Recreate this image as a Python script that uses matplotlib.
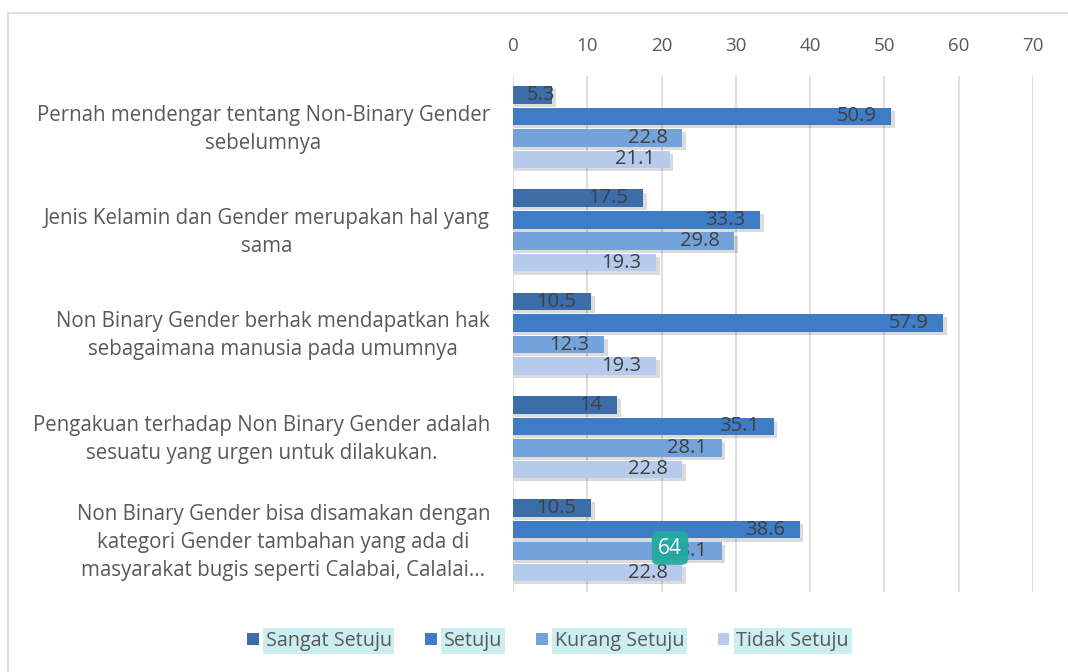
import matplotlib.pyplot as plt
from matplotlib.patches import Rectangle
import matplotlib.transforms as mtransforms
import numpy as np

plt.rcParams['font.family'] = ['Open Sans', 'DejaVu Sans']

# Data
categories = [
    'Pernah mendengar tentang Non-Binary Gender\nsebelumnya',
    'Jenis Kelamin dan Gender merupakan hal yang\nsama',
    'Non Binary Gender berhak mendapatkan hak\nsebagaimana manusia pada umumnya',
    'Pengakuan terhadap Non Binary Gender adalah\nsesuatu yang urgen untuk dilakukan.',
    'Non Binary Gender bisa disamakan dengan\nkategori Gender tambahan yang ada di\nmasyarakat bugis seperti Calabai, Calalai...',
]
series_names = ['Sangat Setuju', 'Setuju', 'Kurang Setuju', 'Tidak Setuju']
sangat_setuju = [5.3, 17.5, 10.5, 14, 10.5]
setuju = [50.9, 33.3, 57.9, 35.1, 38.6]
kurang_setuju = [22.8, 29.8, 12.3, 28.1, 28.1]
tidak_setuju = [21.1, 19.3, 19.3, 22.8, 22.8]
x_ticks = [0, 10, 20, 30, 40, 50, 60, 70]

series = [sangat_setuju, setuju, kurang_setuju, tidak_setuju]
colors = ['#3b6ea8', '#3e7dc5', '#74a2db', '#b6cbeb']

fig = plt.figure(figsize=(10.68, 6.72), dpi=100)
ax = fig.add_axes([0.4803, 0.119, 0.4869, 0.7686])

# chart frame
fig.patches.append(Rectangle((8 / 1068, -0.1), 1.2, 1 - 13 / 672 + 0.1,
                             transform=fig.transFigure, fill=False,
                             edgecolor='#d9d9d9', linewidth=1.2))

y = np.arange(len(categories))
step = 0.208
h = 0.17
for i, (vals, c) in enumerate(zip(series, colors)):
    yy = y + (i - 1.5) * step
    # soft shadow
    ax.barh(yy + 0.03, np.array(vals) + 0.3, height=h, left=0.2,
            color='black', alpha=0.14, zorder=2)
    ax.barh(yy, vals, height=h, color=c, zorder=3, label=series_names[i])
    for v, yv in zip(vals, yy):
        if v < 8:
            ax.text(1.9, yv, f'{v:g}', ha='left', va='center',
                    fontsize=14.5, color='#404040', zorder=4)
        else:
            ax.text(v - 2.0, yv, f'{v:g}', ha='right', va='center',
                    fontsize=14.5, color='#404040', zorder=4)

ax.set_xlim(0, 70)
ax.set_ylim(4.5, -0.5)
ax.set_xticks(x_ticks)
ax.xaxis.tick_top()
ax.tick_params(axis='x', length=0, pad=15, labelsize=13.5, labelcolor='#595959')
ax.set_yticks(y)
ax.set_yticklabels(categories, multialignment='center', linespacing=1.45)
ax.tick_params(axis='y', length=0, pad=16.5, labelsize=14.8, labelcolor='#595959')
# nudge category labels up a little
offset = mtransforms.ScaledTranslation(0, 4 / 100, fig.dpi_scale_trans)
for lab in ax.get_yticklabels():
    lab.set_transform(lab.get_transform() + offset)
ax.grid(axis='x', color='#d9d9d9', linewidth=1.2, zorder=0)
ax.set_axisbelow(True)
for s in ax.spines.values():
    s.set_visible(False)

leg = fig.legend(loc='center', bbox_to_anchor=(0.513, 1 - 641 / 672), ncol=4,
                 frameon=False, fontsize=14.2, handlelength=0.6, handleheight=0.6,
                 handletextpad=0.35, columnspacing=1.7)
for t in leg.get_texts():
    t.set_color('#595959')
    t.set_bbox(dict(facecolor='#cbeeee', edgecolor='none', pad=2))

fig.text(670 / 1068, 1 - 548 / 672, '64', ha='center', va='center', fontsize=15,
         color='white', bbox=dict(boxstyle='round,pad=0.3', facecolor='#22aaa0',
                                  edgecolor='none', alpha=0.95), zorder=10)

fig.savefig('out.png', dpi=100)
